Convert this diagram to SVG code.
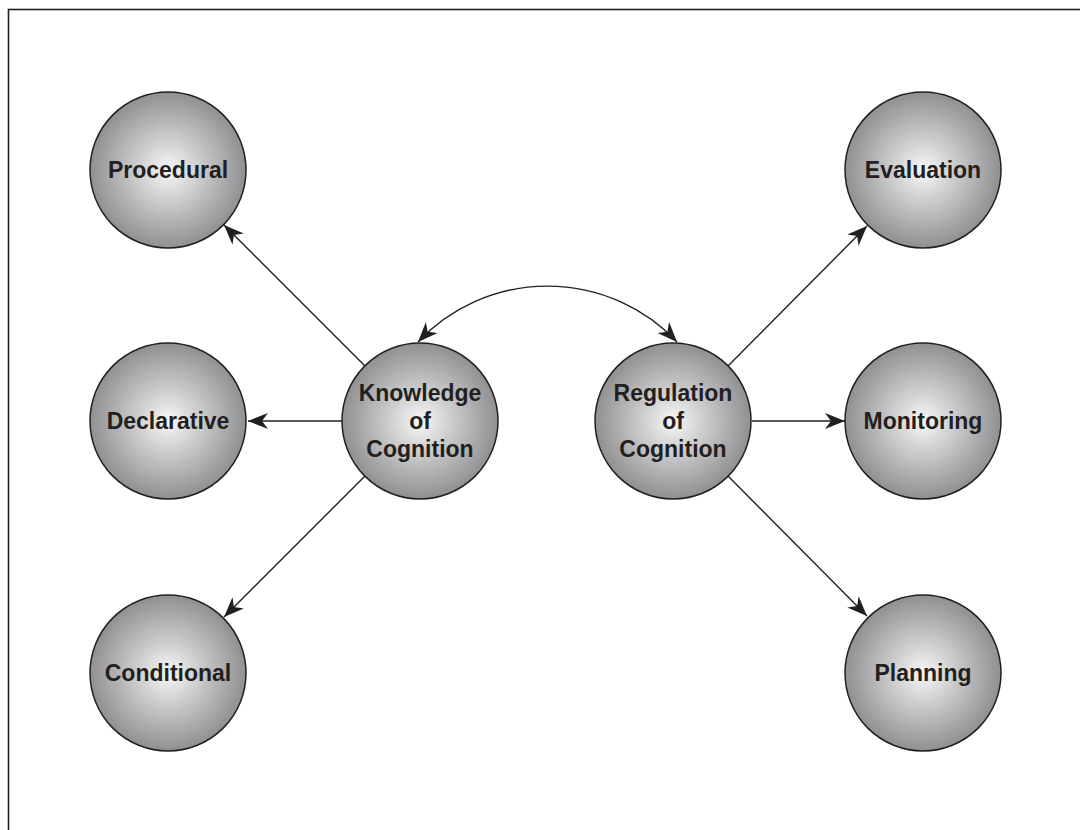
<svg xmlns="http://www.w3.org/2000/svg" width="1080" height="830" viewBox="0 0 1080 830">
<style>
.node circle{fill:url(#g);stroke:#231f20;stroke-width:1.5}
.node text{font-family:"Liberation Sans",Arial,sans-serif;font-weight:bold;font-size:23px;fill:#231f20;text-anchor:middle}
.conn path,.conn line{stroke:#231f20;stroke-width:1.4;fill:none}
</style>
<defs>
<radialGradient id="g" cx="50%" cy="50%" r="50%">
<stop offset="0" stop-color="#f8f8f8"/>
<stop offset="0.35" stop-color="#d2d2d3"/>
<stop offset="1" stop-color="#909093"/>
</radialGradient>
<marker id="ah" markerUnits="userSpaceOnUse" markerWidth="22" markerHeight="16" refX="20" refY="8" orient="auto">
<path d="M0,0 L20,8 L0,16 L6,8 Z" fill="#231f20"/>
</marker>
<marker id="ahs" markerUnits="userSpaceOnUse" markerWidth="22" markerHeight="16" refX="0" refY="8" orient="auto">
<path d="M20,0 L0,8 L20,16 L14,8 Z" fill="#231f20"/>
</marker>
</defs>
<rect x="0" y="0" width="1080" height="830" fill="#fff"/>
<rect x="8.5" y="9.5" width="1100" height="900" fill="none" stroke="#231f20" stroke-width="1.6"/>
<g id="connectors" class="conn">
<line x1="365" y1="366" x2="224" y2="225" marker-end="url(#ah)"/>
<line x1="342" y1="421" x2="248" y2="421" marker-end="url(#ah)"/>
<line x1="365" y1="476" x2="224" y2="617" marker-end="url(#ah)"/>
<line x1="728" y1="366" x2="867" y2="226" marker-end="url(#ah)"/>
<line x1="752" y1="421" x2="845" y2="421" marker-end="url(#ah)"/>
<line x1="728" y1="476" x2="867" y2="616" marker-end="url(#ah)"/>
<path d="M418,342 A178,178 0 0 1 677,342" marker-start="url(#ahs)" marker-end="url(#ah)"/>
</g>
<g id="procedural" class="node"><circle cx="168" cy="170" r="78"/><text x="168" y="178">Procedural</text></g>
<g id="declarative" class="node"><circle cx="168" cy="421" r="78"/><text x="168" y="429">Declarative</text></g>
<g id="conditional" class="node"><circle cx="168" cy="673" r="78"/><text x="168" y="681">Conditional</text></g>
<g id="knowledge" class="node"><circle cx="420" cy="421" r="78"/><text x="420" y="401">Knowledge</text><text x="420" y="429">of</text><text x="420" y="457">Cognition</text></g>
<g id="regulation" class="node"><circle cx="673" cy="421" r="78"/><text x="673" y="401">Regulation</text><text x="673" y="429">of</text><text x="673" y="457">Cognition</text></g>
<g id="evaluation" class="node"><circle cx="923" cy="170" r="78"/><text x="923" y="178">Evaluation</text></g>
<g id="monitoring" class="node"><circle cx="923" cy="421" r="78"/><text x="923" y="429">Monitoring</text></g>
<g id="planning" class="node"><circle cx="923" cy="673" r="78"/><text x="923" y="681">Planning</text></g>
</svg>
